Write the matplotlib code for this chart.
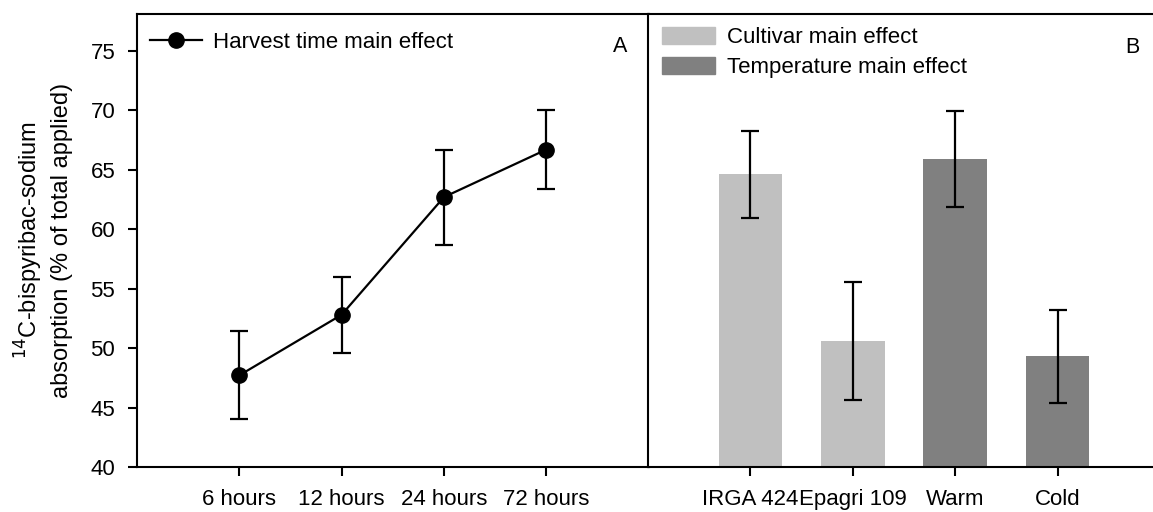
import matplotlib
matplotlib.use("Agg")
import matplotlib.pyplot as plt
from matplotlib.patches import Patch

plt.rcParams['font.family'] = ['Liberation Sans', 'DejaVu Sans']

# panel A: harvest time
times = ['6 hours', '12 hours', '24 hours', '72 hours']
absorption = [47.7, 52.8, 62.7, 66.7]
absorption_err = [3.7, 3.2, 4.0, 3.3]

# panel B: cultivar and temperature
groups = ['IRGA 424', 'Epagri 109', 'Warm', 'Cold']
group_vals = [64.6, 50.6, 65.9, 49.3]
group_err = [3.7, 5.0, 4.0, 3.9]
group_kind = ['Cultivar main effect', 'Cultivar main effect',
              'Temperature main effect', 'Temperature main effect']
kind_colors = {'Cultivar main effect': '#c0c0c0',
               'Temperature main effect': '#808080'}

fig = plt.figure(figsize=(11.53, 5.12), dpi=100)
ax1 = fig.add_axes([0.1186, 0.0879, 0.4441, 0.8848])
ax2 = fig.add_axes([0.5620, 0.0879, 0.4441, 0.8848])

xs = list(range(1, len(times) + 1))
ax1.errorbar(xs, absorption, yerr=absorption_err, fmt='none', ecolor='black',
             elinewidth=1.6, capsize=6.5, capthick=1.6)
ax1.plot(xs, absorption, color='black', marker='o', markersize=11,
         linewidth=1.6, label='Harvest time main effect')
ax1.set_xlim(0, 5)
ax1.set_ylim(40, 78.1)
ax1.set_xticks(xs)
ax1.set_xticklabels(times)
ax1.set_yticks(range(40, 80, 5))
ax1.set_ylabel('$^{14}$C-bispyribac-sodium\nabsorption (% of total applied)',
               fontsize=17, linespacing=1.35)
ax1.yaxis.set_label_coords(-0.125, 0.5)
ax1.legend(loc='upper left', frameon=False, fontsize=16, handlelength=2.35,
           handletextpad=0.5, borderpad=0, borderaxespad=0,
           bbox_to_anchor=(0.026, 0.96))
ax1.text(0.945, 0.928, 'A', transform=ax1.transAxes, fontsize=15.5,
         ha='center', va='center')

xb = list(range(1, len(groups) + 1))
ax2.bar(xb, group_vals, width=0.62, color=[kind_colors[k] for k in group_kind])
ax2.errorbar(xb, group_vals, yerr=group_err, fmt='none', ecolor='black',
             elinewidth=1.6, capsize=6.5, capthick=1.6)
ax2.set_xlim(0, 5)
ax2.set_ylim(40, 78.1)
ax2.set_xticks(xb)
ax2.set_xticklabels(groups)
ax2.set_yticks([])
handles = [Patch(color=kind_colors[k]) for k in kind_colors]
ax2.legend(handles, list(kind_colors), loc='upper left', frameon=False,
           fontsize=16, handlelength=2.4, handleheight=0.85,
           handletextpad=0.55, borderpad=0, borderaxespad=0,
           labelspacing=0.38, bbox_to_anchor=(0.027, 0.972))
ax2.text(0.946, 0.925, 'B', transform=ax2.transAxes, fontsize=15.5,
         ha='center', va='center')

for ax in (ax1, ax2):
    for s in ax.spines.values():
        s.set_linewidth(1.5)
    ax.tick_params(axis='both', labelsize=16, width=1.5, length=6.5,
                   direction='out', pad=9)

fig.savefig('out.png', dpi=100)
